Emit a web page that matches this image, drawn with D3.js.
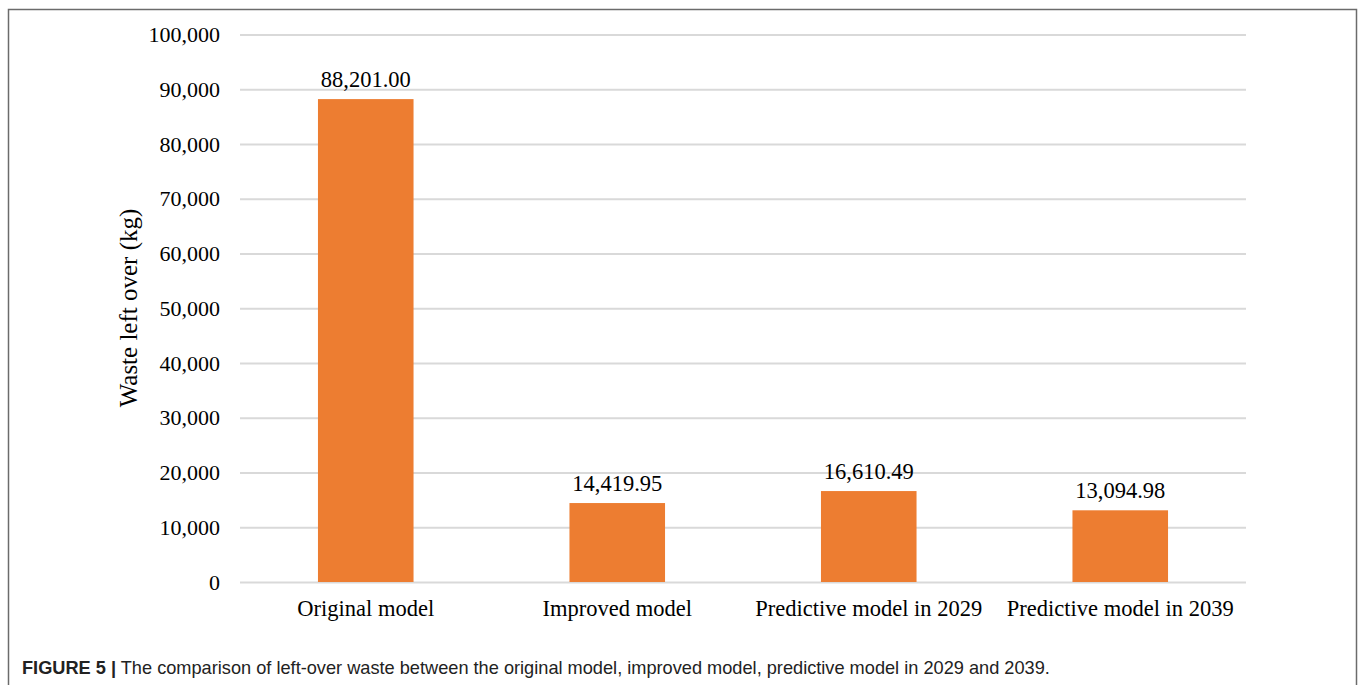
<!DOCTYPE html>
<html><head><meta charset="utf-8">
<script src="https://cdn.jsdelivr.net/npm/d3@7"></script>
<style>body{margin:0;background:#fff;}svg{display:block;}</style>
</head><body>
<svg id="c" width="1360" height="685"></svg>
<script>
const categories = ["Original model", "Improved model", "Predictive model in 2029", "Predictive model in 2039"];
const values = [88201.00, 14419.95, 16610.49, 13094.98];
const yTicks = [0, 10000, 20000, 30000, 40000, 50000, 60000, 70000, 80000, 90000, 100000];
const yLabel = "Waste left over (kg)";
const captionBold = "FIGURE 5 |";
const captionText = " The comparison of left-over waste between the original model, improved model, predictive model in 2029 and 2039.";

const svg = d3.select("#c");
const serif = "'Liberation Serif','Times New Roman',serif";
const narrow = "'Liberation Sans Narrow','Arial Narrow','Liberation Sans',Arial,sans-serif";

// frame
svg.append("path").attr("d","M8.5,685 V9.5 H1356.5 V685").attr("fill","none").attr("stroke","#6b6b6b").attr("stroke-width",1.5);

const x = d3.scaleBand().domain(categories).range([240,1246]).paddingInner(0.62).paddingOuter(0.31);
const y = d3.scaleLinear().domain([0,100000]).range([582,34.5]);

const fmt = d3.format(",");
const yAxis = svg.append("g").attr("transform","translate(240,0)")
  .call(d3.axisLeft(y).tickValues(yTicks).tickFormat(fmt).tickSize(-1006).tickPadding(20));
yAxis.select(".domain").remove();
yAxis.selectAll(".tick line").attr("stroke","#d9d9d9").attr("stroke-width",2);
yAxis.selectAll(".tick text").attr("font-family",serif).attr("font-size",22).attr("fill","#000");

svg.selectAll("rect.bar").data(values).join("rect").attr("class","bar")
  .attr("x",(d,i)=>x(categories[i])).attr("width",x.bandwidth())
  .attr("y",d=>y(d)).attr("height",d=>y(0)-y(d)).attr("fill","#ed7d31");

svg.selectAll("text.val").data(values).join("text").attr("class","val")
  .attr("x",(d,i)=>x(categories[i])+x.bandwidth()/2).attr("y",d=>y(d)-12)
  .attr("text-anchor","middle").attr("font-family",serif).attr("font-size",22.5)
  .text(d=>d3.format(",.2f")(d));

const xAxis = svg.append("g").attr("transform","translate(0,582)")
  .call(d3.axisBottom(x).tickSize(0).tickPadding(18));
xAxis.select(".domain").remove();
xAxis.selectAll(".tick text").attr("font-family",serif).attr("font-size",22.5).attr("fill","#000");

svg.append("text").attr("transform","translate(137,308) rotate(-90)")
  .attr("text-anchor","middle").attr("font-family",serif).attr("font-size",25).text(yLabel);

const cap = svg.append("text").attr("x",22).attr("y",674).attr("font-family",narrow).attr("font-size",18.2).attr("fill","#222");
cap.append("tspan").attr("font-weight","bold").text(captionBold);
cap.append("tspan").text(captionText);
</script>
</body></html>
